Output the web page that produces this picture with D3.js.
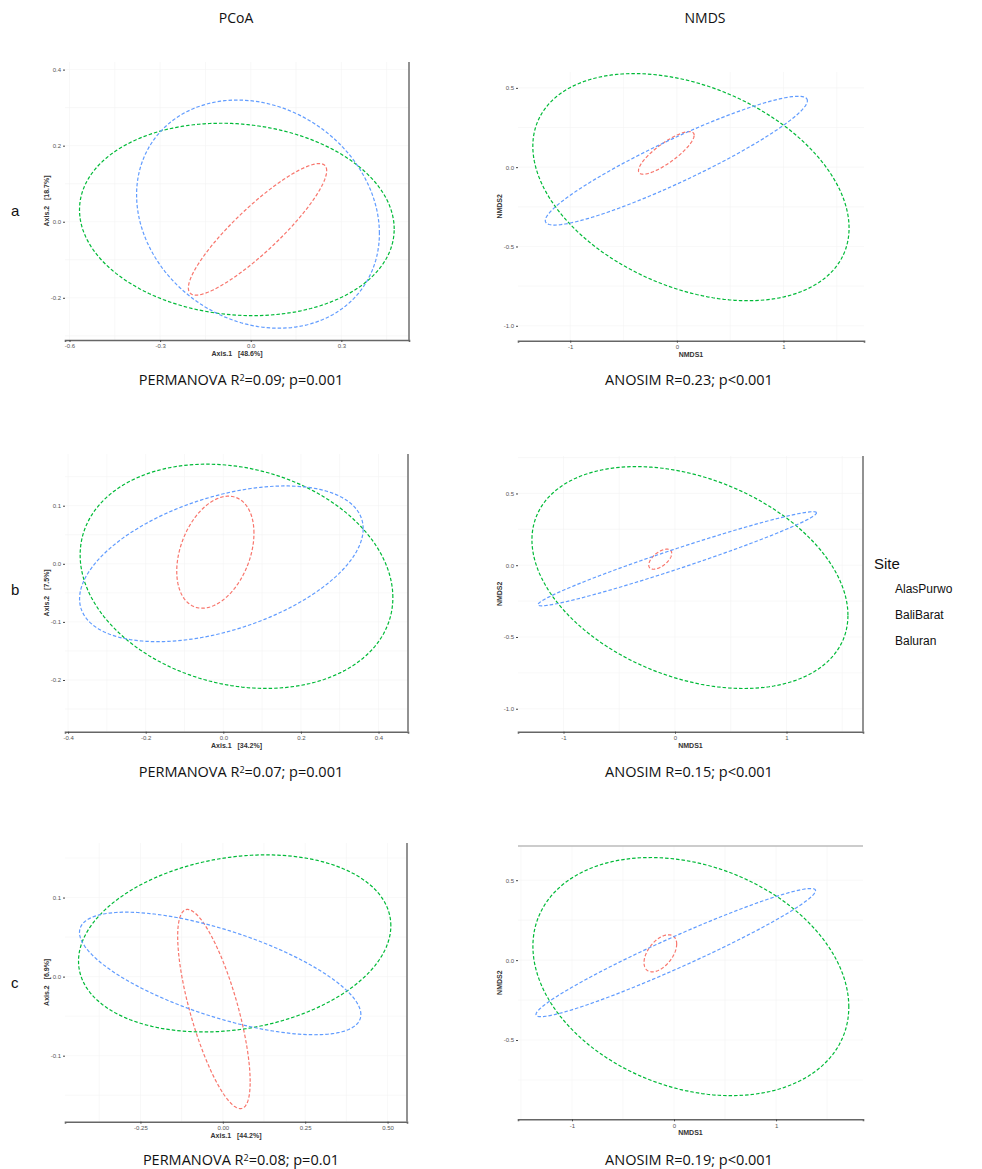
<!DOCTYPE html>
<html>
<head>
<meta charset="utf-8">
<script src="https://cdn.jsdelivr.net/npm/d3@7"></script>
<style>
  body { margin: 0; background: #fff; }
  svg text { font-family: "Liberation Sans", Arial, sans-serif; }
</style>
</head>
<body>
<div id="chart"></div>
<script>
const groups = ["AlasPurwo", "BaliBarat", "Baluran"];
const groupColors = ["#F8766D", "#00BA38", "#619CFF"];

// ellipse per group: [centre x, centre y, half width, half height, correlation]
const pcoaA = [[0.0225, -0.020, 0.229, 0.173, 0.89], [-0.046, 0.006, 0.521, 0.253, -0.10], [0.024, 0.020, 0.402, 0.300, -0.17]];
const nmdsA = [[-0.099, 0.090, 0.261, 0.1345, 0.83], [0.132, -0.126, 1.483, 0.716, -0.36], [-0.005, 0.041, 1.229, 0.406, 0.93]];
const pcoaB = [[-0.0205, 0.020, 0.0995, 0.0964, 0.34], [0.034, -0.0215, 0.403, 0.193, -0.19], [-0.005, 0.000, 0.3655, 0.134, 0.45]];
const nmdsB = [[-0.1325, 0.042, 0.103, 0.070, 0.58], [0.134, -0.086, 1.417, 0.773, -0.34], [0.020, 0.045, 1.249, 0.328, 0.975]];
const pcoaC = [[-0.027, -0.041, 0.110, 0.126, -0.73], [0.036, 0.042, 0.474, 0.112, 0.20], [-0.008, 0.004, 0.427, 0.0775, -0.67]];
const nmdsC = [[-0.134, 0.0425, 0.160, 0.116, 0.50], [0.165, -0.103, 1.548, 0.745, -0.255], [0.017, 0.047, 1.370, 0.401, 0.965]];

const xTicksPcoa = [[-0.6, -0.3, 0, 0.3], [-0.4, -0.2, 0, 0.2, 0.4], [-0.25, 0, 0.25, 0.5]];
const yTicksPcoa = [[-0.2, 0, 0.2, 0.4], [-0.2, -0.1, 0, 0.1], [-0.1, 0, 0.1]];
const xTicksNmds = [[-1, 0, 1], [-1, 0, 1], [-1, 0, 1]];
const yTicksNmds = [[-1, -0.5, 0, 0.5], [-1, -0.5, 0, 0.5], [-0.5, 0, 0.5]];

const axis1Pct = ["48.6%", "34.2%", "44.2%"];
const axis2Pct = ["18.7%", "7.5%", "6.9%"];
const permanovaR2 = ["0.09", "0.07", "0.08"];
const permanovaP = ["0.001", "0.001", "0.01"];
const anosimR = ["0.23", "0.15", "0.19"];
const anosimP = ["<0.001", "<0.001", "<0.001"];
const rowLabels = ["a", "b", "c"];

const width = 982, height = 1169;
const svg = d3.select("#chart").append("svg")
  .attr("width", width).attr("height", height);

// panel boxes and visible data ranges
const panels = [
  { data: pcoaA, kind: "pcoa", row: 0, box: [65, 409, 62, 340], xd: [-0.615, 0.524], yd: [-0.311, 0.42], xt: xTicksPcoa[0], yt: yTicksPcoa[0], xf: ".1f", border: "right" },
  { data: nmdsA, kind: "nmds", row: 0, box: [518, 864, 72, 340.7], xd: [-1.49, 1.755], yd: [-1.094, 0.6], xt: xTicksNmds[0], yt: yTicksNmds[0], xf: "d", border: "none" },
  { data: pcoaB, kind: "pcoa", row: 1, box: [65, 408, 454, 731.7], xd: [-0.408, 0.476], yd: [-0.289, 0.189], xt: xTicksPcoa[1], yt: yTicksPcoa[1], xf: ".1f", border: "right" },
  { data: nmdsB, kind: "nmds", row: 1, box: [518, 863, 456, 731.7], xd: [-1.408, 1.686], yd: [-1.16, 0.761], xt: xTicksNmds[1], yt: yTicksNmds[1], xf: "d", border: "right" },
  { data: pcoaC, kind: "pcoa", row: 2, box: [65, 407, 843, 1121.7], xd: [-0.479, 0.559], yd: [-0.1835, 0.169], xt: xTicksPcoa[2], yt: yTicksPcoa[2], xf: ".2f", border: "right" },
  { data: nmdsC, kind: "nmds", row: 2, box: [518, 863, 846, 1119.3], xd: [-1.529, 1.852], yd: [-0.996, 0.714], xt: xTicksNmds[2], yt: yTicksNmds[2], xf: "d", border: "top" }
];

const hy = f => (v => d3.format(f)(v).replace("\u2212", "-"));

function ellipsePoints(e) {
  const [cx, cy, hw, hh, r] = e;
  const s = Math.sqrt(1 - r * r);
  return d3.range(0, 2 * Math.PI + 0.001, Math.PI / 90).map(t => [
    cx + hw * Math.cos(t),
    cy + hh * (r * Math.cos(t) + s * Math.sin(t))
  ]);
}

panels.forEach(p => {
  const [l, r, t, b] = p.box;
  const x = d3.scaleLinear().domain(p.xd).range([l, r]);
  const y = d3.scaleLinear().domain(p.yd).range([b, t]);
  const g = svg.append("g");

  // faint grid, major and minor
  const xs = p.xt[1] - p.xt[0], ys = p.yt[1] - p.yt[0];
  const xGrid = d3.range(p.xt[0] - xs * 2, p.xd[1], xs / 2).filter(v => v > p.xd[0] && v < p.xd[1]);
  const yGrid = d3.range(p.yt[0] - ys * 2, p.yd[1], ys / 2).filter(v => v > p.yd[0] && v < p.yd[1]);
  g.selectAll(".gx").data(xGrid).join("line")
    .attr("x1", d => x(d)).attr("x2", d => x(d)).attr("y1", t).attr("y2", b)
    .attr("stroke", "#f4f4f4").attr("stroke-width", 0.6);
  g.selectAll(".gy").data(yGrid).join("line")
    .attr("x1", l).attr("x2", r).attr("y1", d => y(d)).attr("y2", d => y(d))
    .attr("stroke", "#f4f4f4").attr("stroke-width", 0.6);

  // ellipses
  const line = d3.line().x(d => x(d[0])).y(d => y(d[1]));
  g.selectAll(".ell").data(p.data).join("path")
    .attr("d", d => line(ellipsePoints(d)))
    .attr("fill", "none")
    .attr("stroke", (d, i) => groupColors[i])
    .attr("stroke-width", 1.2)
    .attr("stroke-dasharray", "3.5,2");

  // axes
  const xAxis = g.append("g").attr("transform", `translate(0,${b})`)
    .call(d3.axisBottom(x).tickValues(p.xt).tickFormat(hy(p.xf)).tickSize(2).tickPadding(2));
  xAxis.select(".domain").attr("stroke", "#666").attr("stroke-width", 1.6);
  const yAxis = g.append("g").attr("transform", `translate(${l},0)`)
    .call(d3.axisLeft(y).tickValues(p.yt).tickFormat(hy(".1f")).tickSize(2).tickPadding(2));
  yAxis.select(".domain").remove();
  g.selectAll(".tick line").attr("stroke", "#444");
  g.selectAll(".tick text").attr("fill", "#555").style("font-size", "6px");

  if (p.border === "right") {
    g.append("line").attr("x1", r).attr("x2", r).attr("y1", t).attr("y2", b)
      .attr("stroke", "#777").attr("stroke-width", 1.6);
  } else if (p.border === "top") {
    g.append("line").attr("x1", l).attr("x2", r).attr("y1", t).attr("y2", t)
      .attr("stroke", "#bbb").attr("stroke-width", 1.6);
  }

  const xTitle = p.kind === "pcoa" ? `Axis.1   [${axis1Pct[p.row]}]` : "NMDS1";
  const yTitle = p.kind === "pcoa" ? `Axis.2   [${axis2Pct[p.row]}]` : "NMDS2";
  g.append("text").attr("x", (l + r) / 2).attr("y", b + 16)
    .attr("text-anchor", "middle").attr("fill", "#333")
    .style("font-size", "7px").style("font-weight", "bold").style("white-space", "pre").text(xTitle);
  g.append("text").attr("transform", `translate(${l - 16},${(t + b) / 2}) rotate(-90)`)
    .attr("text-anchor", "middle").attr("fill", "#333")
    .style("font-size", "7px").style("font-weight", "bold").style("white-space", "pre").text(yTitle);
});

// column titles
const titleFont = "'Open Sans', 'Noto Sans', sans-serif";
[["PCoA", 236], ["NMDS", 705]].forEach(([txt, cx]) => {
  svg.append("text").attr("x", cx).attr("y", 23).attr("text-anchor", "middle")
    .style("font-family", titleFont).style("font-size", "14px").attr("fill", "#111").text(txt);
});

// row labels and statistics
const rowBase = [385, 777, 1165];
const rowLabelY = [216, 595, 988];
rowLabels.forEach((lab, i) => {
  svg.append("text").attr("x", 11).attr("y", rowLabelY[i])
    .style("font-size", "15px").attr("fill", "#111").text(lab);

  const s1 = svg.append("text").attr("x", 241).attr("y", rowBase[i]).attr("text-anchor", "middle")
    .style("font-family", titleFont).style("font-size", "14.5px").attr("fill", "#111");
  s1.append("tspan").text("PERMANOVA R");
  s1.append("tspan").attr("dy", -4).style("font-size", "9px").text("2");
  s1.append("tspan").attr("dy", 4).text(`=${permanovaR2[i]}; p=${permanovaP[i]}`);

  svg.append("text").attr("x", 689).attr("y", rowBase[i]).attr("text-anchor", "middle")
    .style("font-family", titleFont).style("font-size", "14.5px").attr("fill", "#111")
    .text(`ANOSIM R=${anosimR[i]}; p${anosimP[i]}`);
});

// legend (keys are blank in the source, only labels)
svg.append("text").attr("x", 874).attr("y", 569).style("font-size", "15px").attr("fill", "#111").text("Site");
svg.selectAll(".leg").data(groups).join("text")
  .attr("x", 895).attr("y", (d, i) => 593 + i * 26)
  .style("font-size", "12px").attr("fill", "#111").text(d => d);
</script>
</body>
</html>
